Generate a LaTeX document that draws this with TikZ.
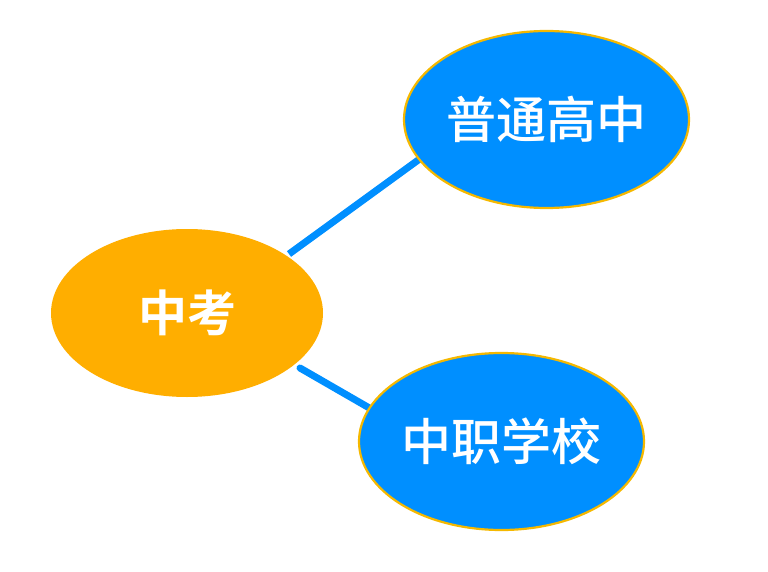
\documentclass[tikz,border=0pt]{standalone}
\usepackage{fontspec}
\newfontfamily\cjkbold{Noto Sans CJK SC Bold}
\newfontfamily\cjkmed{Noto Sans CJK SC Medium}
\usetikzlibrary{shapes.geometric,backgrounds}
\definecolor{zkorange}{HTML}{FFAE00}
\definecolor{nodeblue}{HTML}{008FFF}
\definecolor{rimgold}{HTML}{F5B800}
\begin{document}
\begin{tikzpicture}[x=1pt,y=-1pt,
  bubble/.style={ellipse,inner sep=0pt,text=white},
  centerbubble/.style={bubble,font=\cjkbold\fontsize{49}{49}\selectfont,fill=zkorange,minimum width=272pt,minimum height=168pt},
  leafbubble/.style={bubble,font=\cjkmed\fontsize{50}{50}\selectfont,fill=nodeblue,draw=rimgold,line width=2.2pt,minimum width=285pt,minimum height=177pt},
  link/.style={draw=nodeblue,line width=7pt}]
\useasboundingbox (0,0) rectangle (768,572);
\node[centerbubble] (zk) at (187,313) {中考};
\node[leafbubble] (pt) at (546.5,119.5) {普通高中};
\node[leafbubble] (zz) at (501.5,441.5) {中职学校};
\coordinate (a1) at (289,254);
\coordinate (a2) at (432,150);
\coordinate (b1) at (300,368);
\coordinate (b2) at (385,417);
\begin{scope}[on background layer]
\draw[link] (a1) -- (a2);
\draw[link,line cap=round] (b1) -- (b2);
\end{scope}
\end{tikzpicture}
\end{document}
